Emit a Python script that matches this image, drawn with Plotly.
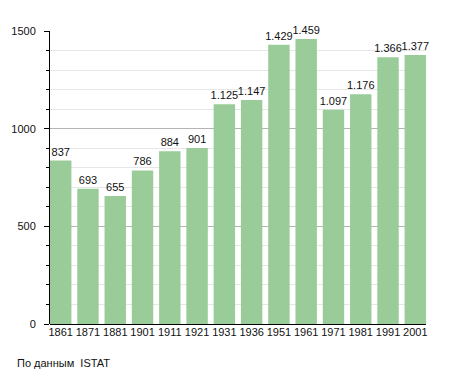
import plotly.graph_objects as go

years = ["1861", "1871", "1881", "1901", "1911", "1921", "1931", "1936",
         "1951", "1961", "1971", "1981", "1991", "2001"]
population = [837, 693, 655, 786, 884, 901, 1125, 1147,
              1429, 1459, 1097, 1176, 1366, 1377]
y_ticks = [0, 500, 1000, 1500]
source_note = "По данным  ISTAT"

labels = [f"{v:,}".replace(",", ".") for v in population]

bargap = 0.215
half = (1 - bargap) / 2

fig = go.Figure()
fig.add_trace(go.Bar(
    x=years, y=population,
    marker=dict(color="#99cc99", line=dict(width=0)),
    text=labels, textposition="outside", constraintext="none",
    textfont=dict(family="Liberation Sans, Arial, sans-serif", size=11, color="#111"),
    cliponaxis=False,
))

# page body has an 8px margin; shrink the figure so the plot lands where the reference has it
fig.update_layout(
    width=447, height=365,
    margin=dict(l=42, r=29, t=23, b=49),
    paper_bgcolor="white", plot_bgcolor="white",
    bargap=bargap,
    showlegend=False,
    font=dict(family="Liberation Sans, Arial, sans-serif", size=11, color="#111"),
)
fig.update_xaxes(
    type="category",
    range=[-half, len(years) - 1 + half],
    showgrid=False, showline=False, ticks="",
    tickfont=dict(size=11, color="#111"),
    automargin=False,
    fixedrange=True,
)
fig.update_yaxes(
    range=[0, 1500],
    tickvals=y_ticks,
    showgrid=True, gridcolor="#b4b4b4", gridwidth=1,
    showline=True, linecolor="black", linewidth=1,
    ticks="outside", ticklen=5, tickcolor="black",
    ticklabelstandoff=6,
    tickfont=dict(size=11, color="#111"),
    zeroline=True, zerolinecolor="black", zerolinewidth=1,
    minor=dict(dtick=100, showgrid=True, gridcolor="#e6e6e6",
               ticks="outside", ticklen=3, tickcolor="black"),
    automargin=False,
    fixedrange=True,
)
fig.add_annotation(
    text=source_note, xref="paper", yref="paper",
    x=-35/376, y=-31/293, xanchor="left", yanchor="top",
    showarrow=False, font=dict(size=11, color="#111"),
)

fig.write_html("out.html")
